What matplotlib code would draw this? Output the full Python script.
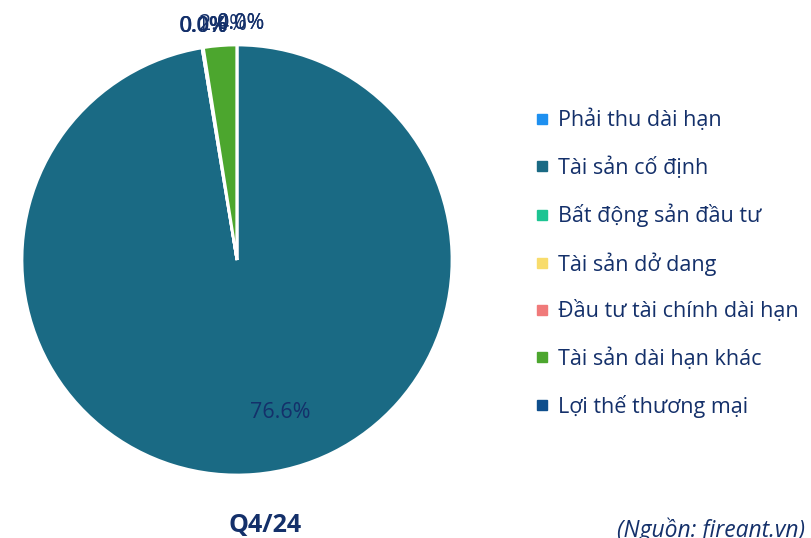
import numpy as np
import matplotlib.pyplot as plt
from matplotlib.lines import Line2D

plt.rcParams['font.family'] = ['Open Sans', 'DejaVu Sans']

# data (Q4/24 long-term asset structure)
categories = ['Phải thu dài hạn', 'Tài sản cố định', 'Bất động sản đầu tư',
              'Tài sản dở dang', 'Đầu tư tài chính dài hạn', 'Tài sản dài hạn khác',
              'Lợi thế thương mại']
shares = [0.0, 97.4, 0.0, 0.1, 0.0, 2.5, 0.0]
pct_labels = ['0.0%', '76.6%', '0.0%', '0.1%', '0.0%', '2.4%', '0.0%']
colors = ['#1E90F0', '#1A6A84', '#1DC492', '#F8DC6C', '#F07A7A', '#4CA62E', '#0E4E8C']

title = 'Q4/24'
source = '(Nguồn: fireant.vn)'
text_color = '#14306A'

W, H = 812, 538
fig = plt.figure(figsize=(W / 100, H / 100), dpi=100)

# pie centred at (237, 260) px, radius 215 px
cx, cy, r = 237, 260, 215
ax = fig.add_axes([(cx - r) / W, (H - cy - r) / H, 2 * r / W, 2 * r / H])
wedges, _ = ax.pie(shares, colors=colors, startangle=90, counterclock=False,
                   wedgeprops=dict(edgecolor='white', linewidth=2))
ax.set_xlim(-1, 1)
ax.set_ylim(-1, 1)
ax.set_aspect('equal')
ax.axis('off')

for w, lab in zip(wedges, pct_labels):
    mid = np.deg2rad((w.theta1 + w.theta2) / 2)
    if lab == '76.6%':
        ax.text(0.2, -0.71, lab, ha='center', va='center', fontsize=15.5, color=text_color)
    else:
        ax.text(1.1 * np.cos(mid) + 0.02, 1.1 * np.sin(mid), lab, ha='center', va='center',
                fontsize=15.5, color=text_color)

handles = [Line2D([], [], marker='s', linestyle='none', markersize=7,
                  markerfacecolor=c, markeredgecolor=c) for c in colors]
fig.legend(handles, categories, loc='upper left', bbox_to_anchor=(527 / W, 1 - 100 / H),
           frameon=False, fontsize=15.5, labelcolor=text_color, handlelength=0.6,
           handletextpad=0.45, labelspacing=1.16, borderaxespad=0)

fig.text(265 / W, 1 - 526 / H, title, ha='center', va='center', fontsize=18,
         fontweight='bold', color=text_color)
fig.text(617 / W, 1 - 530 / H, source, ha='left', va='center', fontsize=16.5,
         style='italic', color=text_color)

fig.savefig('out.png', dpi=100)
